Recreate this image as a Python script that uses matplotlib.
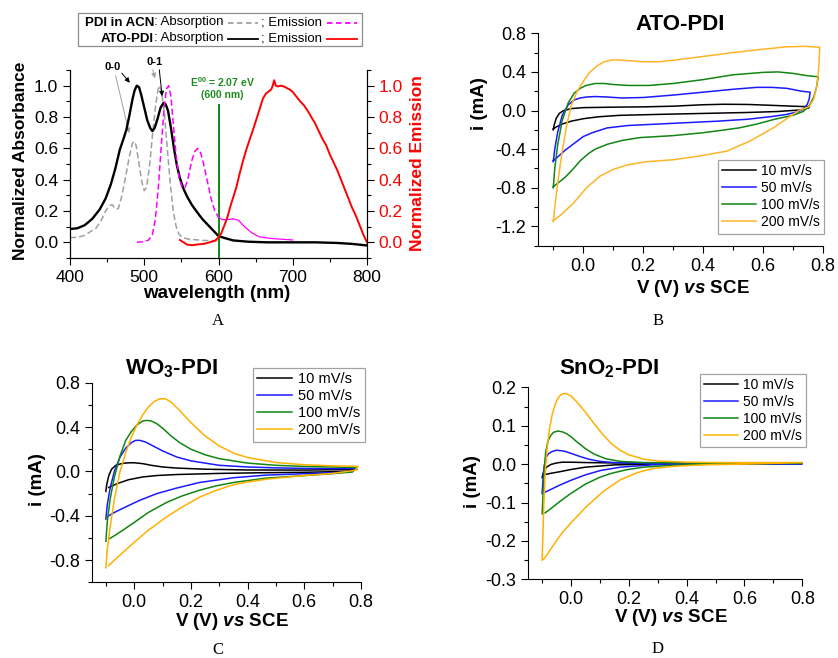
import matplotlib
matplotlib.use("Agg")
import matplotlib.pyplot as plt
from matplotlib.lines import Line2D
from matplotlib.patches import Rectangle
from matplotlib.ticker import MultipleLocator
import numpy as np

plt.rcParams['font.family'] = ['Liberation Sans', 'DejaVu Sans']
plt.rcParams['mathtext.fontset'] = 'custom'
plt.rcParams['mathtext.it'] = 'Liberation Sans:italic:bold'
plt.rcParams['mathtext.rm'] = 'Liberation Sans:bold'
plt.rcParams['mathtext.bf'] = 'Liberation Sans:bold'
plt.rcParams['mathtext.default'] = 'regular'
plt.rcParams['axes.unicode_minus'] = False

# ---------------- Panel A data ----------------
ato_abs_wl = [400, 410, 420, 430, 440, 448, 455, 461, 467, 472, 476, 480, 484, 487, 490, 493, 496, 500,
              504, 508, 511, 514, 518, 522, 526, 529, 532, 536, 540, 544, 548, 553, 558, 564, 570, 578,
              586, 594, 600, 610, 620, 640, 665, 700, 730, 760, 780, 800]
ato_abs = [0.085, 0.09, 0.11, 0.15, 0.21, 0.28, 0.37, 0.47, 0.59, 0.66, 0.72, 0.81, 0.91, 0.97, 1.0, 0.99,
           0.94, 0.86, 0.78, 0.73, 0.71, 0.73, 0.79, 0.86, 0.89, 0.88, 0.84, 0.73, 0.60, 0.49, 0.41, 0.34,
           0.29, 0.24, 0.20, 0.15, 0.11, 0.07, 0.04, 0.025, 0.012, 0.004, 0.0, 0.0, 0.0, -0.004, -0.01, -0.02]

pdi_abs_wl = [400, 410, 420, 428, 435, 442, 448, 453, 457, 461, 465, 470, 475, 480, 484, 486, 489, 493,
              497, 500, 503, 507, 511, 515, 518, 520, 523, 527, 531, 535, 539, 543, 547, 552, 560, 580, 600]
pdi_abs = [0.03, 0.032, 0.045, 0.07, 0.09, 0.14, 0.2, 0.235, 0.24, 0.215, 0.215, 0.3, 0.42, 0.55, 0.63,
           0.645, 0.62, 0.5, 0.38, 0.33, 0.35, 0.48, 0.68, 0.86, 0.96, 1.0, 0.97, 0.83, 0.6, 0.38, 0.2,
           0.1, 0.05, 0.03, 0.02, 0.012, 0.01]

pdi_em_wl = [490, 500, 506, 511, 515, 519, 523, 527, 530, 533, 536, 539, 543, 547, 551, 555, 559, 564,
             568, 572, 576, 580, 585, 590, 595, 600, 605, 612, 620, 627, 635, 645, 655, 670, 685, 700]
pdi_em = [0.0, 0.005, 0.015, 0.05, 0.15, 0.35, 0.62, 0.87, 0.98, 1.0, 0.93, 0.76, 0.55, 0.41, 0.35, 0.35,
          0.41, 0.52, 0.58, 0.60, 0.57, 0.5, 0.39, 0.28, 0.2, 0.16, 0.145, 0.145, 0.15, 0.14, 0.1, 0.06,
          0.035, 0.025, 0.02, 0.015]

ato_em_wl = [548, 553, 558, 565, 573, 580, 588, 595, 600, 604, 608, 612, 616, 620, 624, 628, 633, 638,
             643, 648, 652, 656, 660, 664, 668, 671, 673, 675, 677, 680, 684, 688, 692, 696, 700, 705,
             710, 715, 720, 725, 730, 735, 740, 745, 750, 755, 760, 765, 770, 775, 780, 785, 790, 795, 800]
ato_em = [0.015, 0.0, -0.015, -0.018, -0.013, -0.01, 0.0, 0.01, 0.03, 0.06, 0.11, 0.16, 0.23, 0.29, 0.35,
          0.43, 0.52, 0.6, 0.67, 0.74, 0.8, 0.86, 0.92, 0.95, 0.965, 0.975, 1.0, 1.035, 1.0, 0.995, 1.0,
          0.995, 0.985, 0.975, 0.96, 0.93, 0.9, 0.875, 0.84, 0.8, 0.76, 0.71, 0.66, 0.62, 0.56, 0.51,
          0.46, 0.4, 0.34, 0.28, 0.22, 0.17, 0.11, 0.05, 0.0]

e00_wl = 600
e00_top = 0.88

# ---------------- CV data ----------------
rates = ['10 mV/s', '50 mV/s', '100 mV/s', '200 mV/s']

# Panel B: ATO-PDI (forward V, I ; reverse V, I)
ato_10_fv = [-0.1, -0.097, -0.09, -0.08, -0.065, -0.04, 0.0, 0.1, 0.2, 0.3, 0.4, 0.47, 0.55, 0.62, 0.7, 0.75, 0.755]
ato_10_fi = [-0.2, -0.15, -0.08, -0.03, 0.0, 0.02, 0.03, 0.035, 0.038, 0.045, 0.06, 0.065, 0.063, 0.055, 0.045, 0.04, 0.03]
ato_10_rv = [0.755, 0.74, 0.72, 0.65, 0.55, 0.4, 0.25, 0.12, 0.05, 0.0, -0.04, -0.07, -0.09, -0.1]
ato_10_ri = [0.03, 0.015, 0.005, -0.01, -0.02, -0.03, -0.04, -0.05, -0.065, -0.085, -0.11, -0.14, -0.17, -0.19]

ato_50_fv = [-0.1, -0.095, -0.085, -0.07, -0.05, -0.03, -0.01, 0.01, 0.04, 0.08, 0.13, 0.2, 0.3, 0.4, 0.5, 0.58, 0.63, 0.68, 0.73, 0.758]
ato_50_fi = [-0.53, -0.4, -0.22, -0.05, 0.06, 0.11, 0.13, 0.14, 0.145, 0.14, 0.13, 0.135, 0.16, 0.19, 0.22, 0.24, 0.24, 0.23, 0.2, 0.19]
ato_50_rv = [0.758, 0.755, 0.748, 0.735, 0.72, 0.68, 0.635, 0.55, 0.45, 0.35, 0.25, 0.15, 0.08, 0.03, 0.0, -0.03, -0.06, -0.085, -0.1]
ato_50_ri = [0.19, 0.12, 0.06, 0.015, -0.01, -0.04, -0.06, -0.09, -0.11, -0.125, -0.14, -0.155, -0.18, -0.23, -0.27, -0.34, -0.41, -0.48, -0.52]

ato_100_fv = [-0.1, -0.095, -0.085, -0.07, -0.05, -0.03, -0.01, 0.01, 0.04, 0.07, 0.1, 0.15, 0.22, 0.3, 0.4, 0.5, 0.6, 0.65, 0.7, 0.75, 0.785]
ato_100_fi = [-0.8, -0.6, -0.35, -0.1, 0.08, 0.18, 0.23, 0.26, 0.28, 0.28, 0.27, 0.26, 0.26, 0.28, 0.32, 0.37, 0.395, 0.4, 0.385, 0.36, 0.35]
ato_100_rv = [0.785, 0.78, 0.77, 0.755, 0.735, 0.7, 0.64, 0.58, 0.52, 0.45, 0.4, 0.3, 0.19, 0.13, 0.08, 0.04, 0.02, -0.01, -0.035, -0.06, -0.08, -0.1]
ato_100_ri = [0.35, 0.25, 0.14, 0.05, -0.01, -0.05, -0.09, -0.14, -0.18, -0.21, -0.23, -0.26, -0.28, -0.31, -0.35, -0.4, -0.44, -0.52, -0.61, -0.69, -0.74, -0.79]

ato_200_fv = [-0.1, -0.093, -0.083, -0.07, -0.055, -0.04, -0.02, 0.0, 0.02, 0.045, 0.07, 0.1, 0.14, 0.2, 0.25, 0.3, 0.4, 0.5, 0.6, 0.68, 0.74, 0.79]
ato_200_fi = [-1.15, -0.95, -0.7, -0.42, -0.15, 0.05, 0.2, 0.3, 0.39, 0.46, 0.505, 0.525, 0.52, 0.505, 0.505, 0.52, 0.56, 0.6, 0.635, 0.66, 0.665, 0.655]
ato_200_rv = [0.79, 0.787, 0.78, 0.77, 0.755, 0.72, 0.635, 0.557, 0.48, 0.39, 0.3, 0.21, 0.145, 0.1, 0.056, 0.011, -0.033, -0.078, -0.1]
ato_200_ri = [0.65, 0.45, 0.25, 0.12, 0.04, 0.0, -0.18, -0.316, -0.42, -0.47, -0.51, -0.53, -0.565, -0.61, -0.68, -0.8, -0.96, -1.09, -1.14]

# Panel C: WO3-PDI
wo_10_fv = [-0.1, -0.097, -0.09, -0.08, -0.065, -0.045, -0.025, 0.0, 0.03, 0.06, 0.1, 0.15, 0.25, 0.4, 0.6, 0.785]
wo_10_fi = [-0.18, -0.12, -0.04, 0.02, 0.055, 0.07, 0.077, 0.078, 0.07, 0.055, 0.04, 0.03, 0.02, 0.013, 0.012, 0.018]
wo_10_rv = [0.785, 0.75, 0.6, 0.45, 0.3, 0.15, 0.08, 0.03, -0.02, -0.06, -0.09]
wo_10_ri = [0.018, 0.0, -0.008, -0.012, -0.018, -0.028, -0.037, -0.05, -0.075, -0.11, -0.145]

wo_50_fv = [-0.1, -0.095, -0.085, -0.07, -0.05, -0.03, -0.01, 0.005, 0.02, 0.04, 0.07, 0.1, 0.15, 0.2, 0.3, 0.4, 0.5, 0.6, 0.7, 0.785]
wo_50_fi = [-0.43, -0.3, -0.15, 0.0, 0.13, 0.21, 0.26, 0.28, 0.28, 0.265, 0.225, 0.185, 0.13, 0.095, 0.055, 0.04, 0.032, 0.027, 0.025, 0.025]
wo_50_rv = [0.785, 0.77, 0.7, 0.585, 0.467, 0.35, 0.23, 0.15, 0.08, 0.02, -0.03, -0.07, -0.09]
wo_50_ri = [0.025, 0.0, -0.012, -0.022, -0.033, -0.057, -0.1, -0.15, -0.2, -0.26, -0.32, -0.37, -0.40]

wo_100_fv = [-0.1, -0.095, -0.085, -0.07, -0.05, -0.03, -0.01, 0.01, 0.03, 0.045, 0.06, 0.08, 0.1, 0.13, 0.16, 0.2, 0.25, 0.3, 0.4, 0.5, 0.6, 0.7, 0.785]
wo_100_fi = [-0.63, -0.45, -0.25, -0.05, 0.14, 0.28, 0.36, 0.42, 0.455, 0.46, 0.455, 0.43, 0.39, 0.32, 0.26, 0.2, 0.15, 0.115, 0.075, 0.055, 0.045, 0.04, 0.035]
wo_100_rv = [0.785, 0.77, 0.7, 0.585, 0.467, 0.35, 0.29, 0.23, 0.17, 0.114, 0.05, 0.0, -0.04, -0.07, -0.09]
wo_100_ri = [0.035, -0.005, -0.02, -0.04, -0.06, -0.1, -0.13, -0.17, -0.22, -0.28, -0.37, -0.46, -0.53, -0.58, -0.61]

wo_200_fv = [-0.1, -0.095, -0.085, -0.07, -0.05, -0.03, -0.01, 0.01, 0.03, 0.05, 0.07, 0.09, 0.11, 0.13, 0.16, 0.2, 0.25, 0.3, 0.35, 0.4, 0.5, 0.6, 0.7, 0.79]
wo_200_fi = [-0.87, -0.7, -0.5, -0.25, 0.0, 0.17, 0.31, 0.42, 0.51, 0.58, 0.63, 0.655, 0.655, 0.625, 0.55, 0.44, 0.32, 0.23, 0.165, 0.125, 0.08, 0.06, 0.05, 0.045]
wo_200_rv = [0.79, 0.78, 0.7, 0.585, 0.467, 0.4, 0.35, 0.29, 0.232, 0.17, 0.114, 0.05, 0.0, -0.04, -0.07, -0.09]
wo_200_ri = [0.045, 0.01, -0.018, -0.04, -0.07, -0.095, -0.12, -0.17, -0.23, -0.32, -0.41, -0.53, -0.64, -0.73, -0.80, -0.85]

# Panel D: SnO2-PDI
sn_10_fv = [-0.1, -0.095, -0.085, -0.07, -0.05, -0.03, 0.0, 0.05, 0.15, 0.8]
sn_10_fi = [-0.035, -0.02, -0.008, -0.001, 0.003, 0.005, 0.005, 0.004, 0.003, 0.002]
sn_10_rv = [0.8, 0.3, 0.15, 0.05, 0.0, -0.04, -0.07, -0.095]
sn_10_ri = [0.002, 0.0, -0.002, -0.008, -0.014, -0.02, -0.024, -0.028]

sn_50_fv = [-0.1, -0.097, -0.093, -0.087, -0.078, -0.065, -0.05, -0.035, -0.02, 0.0, 0.03, 0.06, 0.1, 0.15, 0.25, 0.8]
sn_50_fi = [-0.077, -0.04, -0.005, 0.017, 0.027, 0.033, 0.036, 0.035, 0.033, 0.028, 0.02, 0.013, 0.007, 0.004, 0.002, 0.001]
sn_50_rv = [0.8, 0.4, 0.28, 0.17, 0.1, 0.05, 0.0, -0.04, -0.07, -0.09]
sn_50_ri = [0.001, 0.0, -0.002, -0.008, -0.017, -0.028, -0.042, -0.055, -0.066, -0.073]

sn_100_fv = [-0.1, -0.097, -0.093, -0.088, -0.08, -0.07, -0.06, -0.045, -0.03, -0.015, 0.0, 0.02, 0.05, 0.08, 0.12, 0.17, 0.25, 0.4, 0.8]
sn_100_fi = [-0.13, -0.08, -0.02, 0.03, 0.06, 0.075, 0.083, 0.086, 0.084, 0.079, 0.071, 0.058, 0.04, 0.026, 0.014, 0.007, 0.004, 0.003, 0.002]
sn_100_rv = [0.8, 0.5, 0.35, 0.25, 0.19, 0.14, 0.1, 0.05, 0.0, -0.04, -0.07, -0.09]
sn_100_ri = [0.002, 0.0, -0.003, -0.008, -0.015, -0.024, -0.034, -0.052, -0.076, -0.098, -0.116, -0.127]

sn_200_fv = [-0.1, -0.098, -0.095, -0.09, -0.083, -0.075, -0.065, -0.055, -0.045, -0.035, -0.025, -0.015, 0.0, 0.02, 0.05, 0.08, 0.11, 0.14, 0.17, 0.2, 0.25, 0.3, 0.4, 0.5, 0.8]
sn_200_fi = [-0.25, -0.2, -0.12, -0.03, 0.04, 0.09, 0.13, 0.155, 0.172, 0.181, 0.184, 0.183, 0.177, 0.162, 0.135, 0.105, 0.077, 0.053, 0.036, 0.024, 0.013, 0.008, 0.005, 0.004, 0.004]
sn_200_rv = [0.8, 0.6, 0.45, 0.35, 0.28, 0.23, 0.17, 0.11, 0.05, 0.0, -0.03, -0.06, -0.08, -0.095]
sn_200_ri = [0.004, 0.0, -0.002, -0.006, -0.012, -0.022, -0.041, -0.072, -0.113, -0.153, -0.178, -0.21, -0.232, -0.248]

# ---------------- figure ----------------
W, H = 838, 658
fig = plt.figure(figsize=(W / 100, H / 100), dpi=100)


def fx(px):
    return px / W


def fy(py):
    return 1 - py / H


def axes_px(l, t, r, b):
    return fig.add_axes([fx(l), fy(b), (r - l) / W, (b - t) / H])


def style_axes(ax, fs, right=False):
    ax.spines['top'].set_visible(False)
    if not right:
        ax.spines['right'].set_visible(False)
    for s in ax.spines.values():
        s.set_linewidth(0.8)
    ax.tick_params(which='major', direction='out', length=5, width=0.8, labelsize=fs)
    ax.tick_params(which='minor', direction='out', length=3, width=0.8)


# ---------------- Panel A ----------------
axA = axes_px(70, 70, 367, 258)
axA2 = axA.twinx()
axA.set_xlim(400, 800)
axA.set_ylim(-0.1, 1.1)
axA2.set_ylim(-0.1, 1.1)
style_axes(axA, 12.5, right=True)
axA2.spines['top'].set_visible(False)
for s in axA2.spines.values():
    s.set_linewidth(0.8)
axA2.tick_params(which='major', direction='out', length=5, width=0.8, labelsize=12.5, labelcolor='red')
axA2.tick_params(which='minor', direction='out', length=3, width=0.8)
axA.xaxis.set_major_locator(MultipleLocator(100))
axA.xaxis.set_minor_locator(MultipleLocator(50))
for a in (axA, axA2):
    a.yaxis.set_major_locator(MultipleLocator(0.2))
    a.yaxis.set_minor_locator(MultipleLocator(0.1))
    a.set_yticks(np.arange(0, 1.01, 0.2))

axA.plot(pdi_abs_wl, pdi_abs, color='#a0a0a0', lw=1.1, ls=(0, (4, 2)))
axA.plot(ato_abs_wl, ato_abs, color='black', lw=1.7, zorder=4)
em_wl = np.array(pdi_em_wl)
em_v = np.array(pdi_em)
m1 = em_wl <= 600
m2 = em_wl >= 600
axA2.plot(em_wl[m1], em_v[m1], color='#ff00ff', lw=1.1, ls=(0, (4, 2)))
axA2.plot(em_wl[m2], em_v[m2], color='#ff00ff', lw=0.9)
axA2.plot(ato_em_wl, ato_em, color='red', lw=1.4)
axA.vlines(e00_wl, -0.1, e00_top, color='#008000', lw=1.3, zorder=5)

fig.text(fx(222), fy(82), r'E$^{00}$ = 2.07 eV', color='#1e8b1e', fontsize=7.5, fontweight='bold', ha='center', va='center')
fig.text(fx(222), fy(95), '(600 nm)', color='#1e8b1e', fontsize=7.5, fontweight='bold', ha='center', va='center')

fig.text(fx(217), fy(293), 'wavelength (nm)', fontsize=13.5, fontweight='bold', ha='center', va='center')
fig.text(fx(21), fy(161), 'Normalized Absorbance', fontsize=12.5, fontweight='bold', ha='center', va='center', rotation=90)
fig.text(fx(417), fy(163), 'Normalized Emission', fontsize=12.5, fontweight='bold', ha='center', va='center', rotation=90, color='red')

# arrows 0-0 and 0-1
fig.text(fx(113), fy(67), '0-0', fontsize=8, fontweight='bold', ha='center', va='center')
fig.text(fx(155), fy(62), '0-1', fontsize=8, fontweight='bold', ha='center', va='center')
arr_k = dict(arrowstyle='-|>', color='black', lw=0.7, mutation_scale=7)
arr_g = dict(arrowstyle='-|>', color='#a0a0a0', lw=0.7, mutation_scale=7)
axA.annotate('', xy=(483, 1.005), xytext=(fx(120), fy(71)), textcoords='figure fraction', arrowprops=arr_k, annotation_clip=False)
axA.annotate('', xy=(480.5, 0.68), xytext=(fx(115), fy(73)), textcoords='figure fraction', arrowprops=arr_g, annotation_clip=False)
axA.annotate('', xy=(515.5, 1.03), xytext=(fx(152), fy(67)), textcoords='figure fraction', arrowprops=arr_g, annotation_clip=False)
axA.annotate('', xy=(524.5, 0.915), xytext=(fx(159), fy(67)), textcoords='figure fraction', arrowprops=arr_k, annotation_clip=False)

# Legend box for panel A
fig.patches.append(Rectangle((fx(78), fy(46)), (362 - 78) / W, (46 - 13) / H, transform=fig.transFigure,
                             fill=False, edgecolor='#8c8c8c', lw=0.9))
lf = 9.5
for row_y, name, absc, absls, emc, emls in [(22.5, 'PDI in ACN', '#a0a0a0', (0, (3, 2)), '#ff00ff', (0, (3, 2))),
                                             (38.5, 'ATO-PDI', 'black', '-', 'red', '-')]:
    fig.text(fx(154), fy(row_y), name, fontsize=lf, fontweight='bold', ha='right', va='center')
    fig.text(fx(154), fy(row_y), ': Absorption', fontsize=lf, ha='left', va='center')
    fig.lines.append(Line2D([fx(228), fx(258)], [fy(row_y), fy(row_y)], transform=fig.transFigure,
                            color=absc, ls=absls, lw=1.3))
    fig.text(fx(261), fy(row_y), '; Emission', fontsize=lf, ha='left', va='center')
    fig.lines.append(Line2D([fx(327), fx(357)], [fy(row_y), fy(row_y)], transform=fig.transFigure,
                            color=emc, ls=emls, lw=1.3))

fig.text(fx(218), fy(321), 'A', fontsize=12, family='Liberation Serif', ha='center', va='center')

# ---------------- CV panels ----------------
cv_colors = ['black', '#1a1aff', '#128512', '#ffb428']
cv_colors2 = ['black', '#1a1aff', '#128512', '#ffb000']


def draw_cv(ax, sets, colors):
    handles = []
    for (fv, fi, rv, ri), c, lab in zip(sets, colors, rates):
        h, = ax.plot(list(fv) + list(rv), list(fi) + list(ri), color=c, lw=1.1, label=lab, clip_on=False)
        handles.append(h)
    return handles


def cv_axes(ax, ylim, ymaj, ymin_):
    ax.set_xlim(-0.15, 0.8)
    ax.set_ylim(*ylim)
    style_axes(ax, 13)
    ax.set_xticks([0.0, 0.2, 0.4, 0.6, 0.8])
    ax.xaxis.set_minor_locator(MultipleLocator(0.1))
    ax.yaxis.set_major_locator(MultipleLocator(ymaj))
    ax.yaxis.set_minor_locator(MultipleLocator(ymin_))
    ax.xaxis.set_major_formatter(matplotlib.ticker.FormatStrFormatter('%.1f'))


def add_legend(ax, handles, l, t, fs, spacing):
    leg = ax.legend(handles=handles, loc='upper left', bbox_to_anchor=(fx(l), fy(t)), bbox_transform=fig.transFigure,
                    borderaxespad=0, fontsize=fs, frameon=True, fancybox=False, edgecolor='#8c8c8c',
                    handlelength=2.4, handletextpad=0.4, labelspacing=spacing, borderpad=0.3)
    leg.get_frame().set_linewidth(0.9)
    return leg


# Panel B
axB = axes_px(538.3, 33.3, 822.7, 245.7)
cv_axes(axB, (-1.4, 0.8), 0.4, 0.2)
axB.set_yticks([-1.2, -0.8, -0.4, 0.0, 0.4, 0.8])
hB = draw_cv(axB, [(ato_10_fv, ato_10_fi, ato_10_rv, ato_10_ri), (ato_50_fv, ato_50_fi, ato_50_rv, ato_50_ri),
                   (ato_100_fv, ato_100_fi, ato_100_rv, ato_100_ri), (ato_200_fv, ato_200_fi, ato_200_rv, ato_200_ri)],
             cv_colors)
add_legend(axB, hB, 718, 160, 10, 0.22)
fig.text(fx(680), fy(25), 'ATO-PDI', fontsize=16, fontweight='bold', ha='center', va='center')
fig.text(fx(479), fy(104), 'i (mA)', fontsize=13.5, fontweight='bold', ha='center', va='center', rotation=90)
fig.text(fx(693), fy(288), r'V (V) $\mathit{vs}$ SCE', fontsize=13.5, fontweight='bold', ha='center', va='center')
fig.text(fx(658), fy(321), 'B', fontsize=12, family='Liberation Serif', ha='center', va='center')

# Panel C
axC = axes_px(91.7, 382.7, 361, 582.3)
cv_axes(axC, (-1.0, 0.8), 0.4, 0.2)
axC.set_yticks([-0.8, -0.4, 0.0, 0.4, 0.8])
hC = draw_cv(axC, [(wo_10_fv, wo_10_fi, wo_10_rv, wo_10_ri), (wo_50_fv, wo_50_fi, wo_50_rv, wo_50_ri),
                   (wo_100_fv, wo_100_fi, wo_100_rv, wo_100_ri), (wo_200_fv, wo_200_fi, wo_200_rv, wo_200_ri)],
             cv_colors2)
add_legend(axC, hC, 253, 368, 10.5, 0.2)
fig.text(fx(171), fy(369), r'WO$_3$-PDI', fontsize=16, fontweight='bold', ha='center', va='center')
fig.text(fx(37), fy(480), 'i (mA)', fontsize=13.5, fontweight='bold', ha='center', va='center', rotation=90)
fig.text(fx(232), fy(622), r'V (V) $\mathit{vs}$ SCE', fontsize=13.5, fontweight='bold', ha='center', va='center')
fig.text(fx(218), fy(650), 'C', fontsize=12, family='Liberation Serif', ha='center', va='center')

# Panel D
axD = axes_px(527.7, 387.3, 802.3, 579.3)
cv_axes(axD, (-0.3, 0.2), 0.1, 0.05)
axD.set_yticks([-0.3, -0.2, -0.1, 0.0, 0.1, 0.2])
hD = draw_cv(axD, [(sn_10_fv, sn_10_fi, sn_10_rv, sn_10_ri), (sn_50_fv, sn_50_fi, sn_50_rv, sn_50_ri),
                   (sn_100_fv, sn_100_fi, sn_100_rv, sn_100_ri), (sn_200_fv, sn_200_fi, sn_200_rv, sn_200_ri)],
             cv_colors2)
add_legend(axD, hD, 700, 374, 10, 0.2)
fig.text(fx(609), fy(369), r'SnO$_2$-PDI', fontsize=16, fontweight='bold', ha='center', va='center')
fig.text(fx(472), fy(482), 'i (mA)', fontsize=13.5, fontweight='bold', ha='center', va='center', rotation=90)
fig.text(fx(671), fy(617), r'V (V) $\mathit{vs}$ SCE', fontsize=13.5, fontweight='bold', ha='center', va='center')
fig.text(fx(658), fy(649), 'D', fontsize=12, family='Liberation Serif', ha='center', va='center')

fig.savefig('out.png', dpi=100)
